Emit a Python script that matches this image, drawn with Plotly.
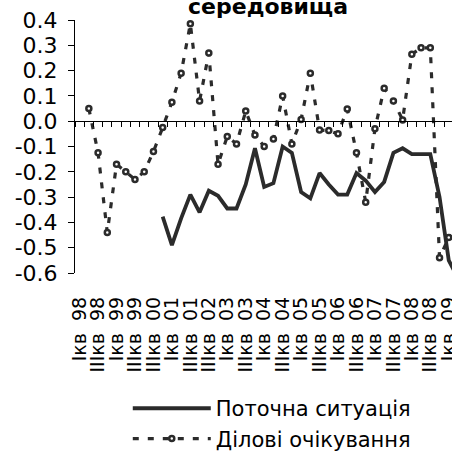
import plotly.graph_objects as go

SP = "\u00a0\u00a0"
categories = [
    "Iкв" + SP + "98", "IIкв" + SP + "98", "IIIкв" + SP + "98", "IVкв" + SP + "98",
    "Iкв" + SP + "99", "IIкв" + SP + "99", "IIIкв" + SP + "99", "IVкв" + SP + "99",
    "IIIкв" + SP + "00", "IVкв" + SP + "00",
    "Iкв" + SP + "01", "IIкв" + SP + "01", "IIIкв" + SP + "01", "IVкв" + SP + "01",
    "IIIкв" + SP + "02", "IVкв" + SP + "02",
    "Iкв" + SP + "03", "IIкв" + SP + "03", "IIIкв" + SP + "03", "IVкв" + SP + "03",
    "Iкв" + SP + "04", "IIкв" + SP + "04", "IIIкв" + SP + "04", "IVкв" + SP + "04",
    "Iкв" + SP + "05", "IIкв" + SP + "05", "IIIкв" + SP + "05", "IVкв" + SP + "05",
    "Iкв" + SP + "06", "IIкв" + SP + "06", "IIIкв" + SP + "06", "IVкв" + SP + "06",
    "Iкв" + SP + "07", "IIкв" + SP + "07", "IIIкв" + SP + "07", "IVкв" + SP + "07",
    "Iкв" + SP + "08", "IIкв" + SP + "08", "IIIкв" + SP + "08", "IVкв" + SP + "08",
    "Iкв" + SP + "09", "IIкв" + SP + "09",
]

current = [
    None, None, None, None, None, None, None, None, None,
    -0.377, -0.49, -0.384, -0.29, -0.36, -0.275, -0.295, -0.345, -0.345,
    -0.25, -0.107, -0.26, -0.245, -0.10, -0.125, -0.28, -0.305, -0.205,
    -0.25, -0.29, -0.29, -0.205, -0.235, -0.28, -0.24, -0.125, -0.107,
    -0.13, -0.13, -0.13, -0.30, -0.55, -0.62,
]

expect = [
    None, 0.05, -0.125, -0.44, -0.17, -0.20, -0.23, -0.20, -0.12, -0.025,
    0.075, 0.19, 0.385, 0.08, 0.27, -0.17, -0.06, -0.09, 0.04, -0.055,
    -0.10, -0.07, 0.10, -0.09, 0.007, 0.19, -0.035, -0.037, -0.05, 0.048,
    -0.125, -0.32, -0.03, 0.13, 0.08, 0.005, 0.265, 0.29, 0.29, -0.54,
    -0.46, None,
]

ytick_vals = [-0.6, -0.5, -0.4, -0.3, -0.2, -0.1, 0.0, 0.1, 0.2, 0.3, 0.4]
ytick_text = ["-0.6", "-0.5", "-0.4", "-0.3", "-0.2", "-0.1", "0.0", "0.1", "0.2", "0.3", "0.4"]

series_names = ["Поточна ситуація", "Ділові очікування"]
title_text = "середовища"

INK = "#2b2b2b"
FONT = "DejaVu Sans"
XR = [-0.5, 40.35]

fig = go.Figure()
fig.add_trace(go.Scatter(
    x=categories, y=current, name=series_names[0], mode="lines",
    line=dict(color=INK, width=3.8), connectgaps=False,
))
fig.add_trace(go.Scatter(
    x=categories, y=expect, name=series_names[1], mode="lines+markers",
    line=dict(color=INK, width=3.2, dash="6px,9px"),
    marker=dict(symbol="circle", size=5, color="white", line=dict(color=INK, width=2.5)),
    connectgaps=False,
))
# helper trace to register the tick-mark axis along y = 0
fig.add_trace(go.Scatter(x=[], y=[], xaxis="x2", showlegend=False, hoverinfo="skip"))

fig.update_layout(
    width=452, height=452,
    margin=dict(l=75, r=0, t=20, b=179, autoexpand=False),
    paper_bgcolor="white", plot_bgcolor="white",
    font=dict(family=FONT, color="black"),
    showlegend=True,
    legend=dict(
        x=0.14, y=-0.455, xanchor="left", yanchor="top",
        font=dict(family=FONT, size=21, color="black"),
        itemwidth=78, tracegroupgap=0, bgcolor="rgba(0,0,0,0)",
    ),
    xaxis=dict(
        type="category", categoryorder="array", categoryarray=categories,
        range=XR, tickmode="linear", tick0=0, dtick=2,
        tickangle=-90, ticks="", showline=False, showgrid=False, zeroline=False,
        ticklabelstandoff=19,
        tickfont=dict(family=FONT, size=19, color="black"),
    ),
    xaxis2=dict(
        overlaying="x", anchor="free", position=0.6, side="bottom",
        range=XR, tickmode="linear", tick0=-0.5, dtick=1,
        ticks="outside", ticklen=5, tickwidth=1, tickcolor="black",
        showticklabels=False, showline=True, linecolor="black", linewidth=1,
        showgrid=False, zeroline=False,
    ),
    yaxis=dict(
        range=[-0.6, 0.4], tickmode="array", tickvals=ytick_vals, ticktext=ytick_text,
        ticks="outside", ticklen=6, tickwidth=1, tickcolor="black",
        showline=True, linecolor="black", linewidth=1,
        showgrid=False, zeroline=False, ticklabelstandoff=6,
        tickfont=dict(family=FONT, size=22, color="black"),
    ),
    annotations=[dict(
        text="<b>" + title_text + "</b>", xref="paper", yref="paper",
        x=0.512, y=1.052, xanchor="center", yanchor="middle", showarrow=False,
        font=dict(family=FONT, size=22, color="black"), borderpad=0,
    )],
)

fig.write_html("out.html")
